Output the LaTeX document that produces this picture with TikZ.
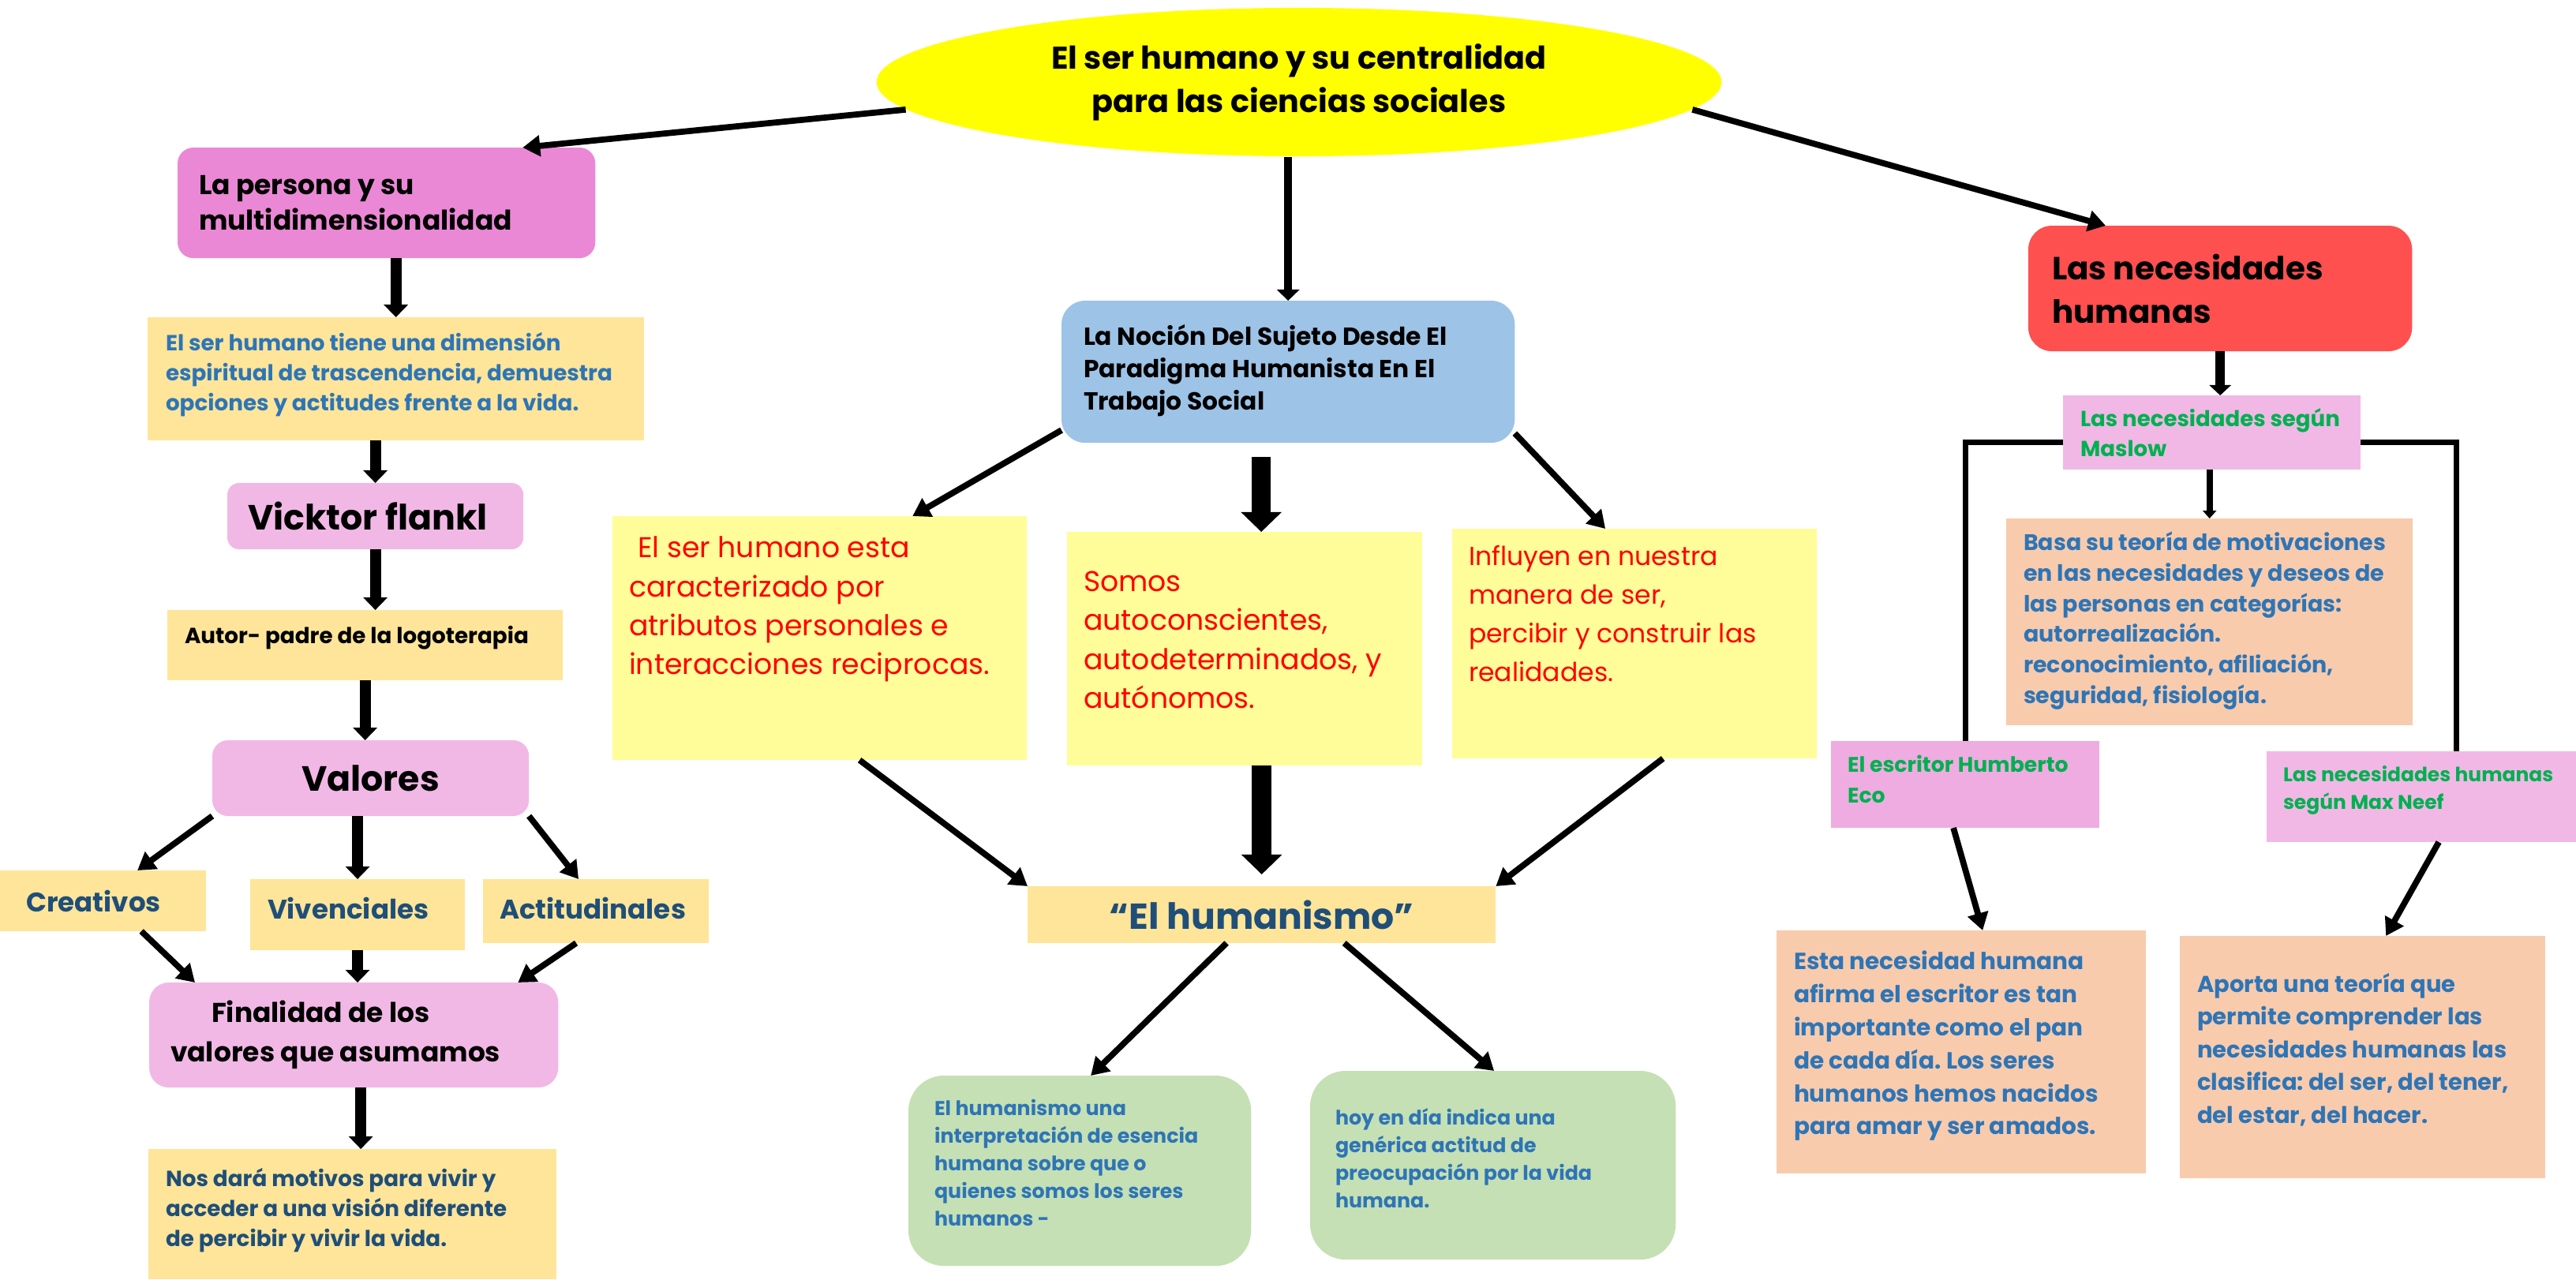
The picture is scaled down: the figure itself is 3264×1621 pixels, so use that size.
\documentclass[tikz,border=0pt]{standalone}
\usepackage{fontspec}
\setmainfont{Poppins}
\usepackage{xcolor}
\usetikzlibrary{arrows.meta,shapes.geometric}
\frenchspacing

\definecolor{elly}{HTML}{FFFF00}
\definecolor{pinkA}{HTML}{EB88D6}
\definecolor{pinkB}{HTML}{F1B8E6}
\definecolor{pinkC}{HTML}{EEACE0}
\definecolor{sandY}{HTML}{FEE599}
\definecolor{lemon}{HTML}{FFFD99}
\definecolor{skyB}{HTML}{9DC3E6}
\definecolor{redN}{HTML}{FF5050}
\definecolor{peach}{HTML}{F8CBAD}
\definecolor{sage}{HTML}{C5E0B4}
\definecolor{txtblue}{HTML}{2E75B6}
\definecolor{txtnavy}{HTML}{1F4E79}
\definecolor{txtgreen}{HTML}{00B050}

\newcommand{\fs}[2]{\fontsize{#1}{#2}\selectfont}
\newcommand{\cell}[4][t]{\parbox[c][#3cm][#1]{#2cm}{\raggedright #4}}

\tikzset{
  box/.style={anchor=north west, outer sep=0pt},
  arr/.style={line width=2.2pt, -{Triangle[length=0.22cm,width=0.26cm]}},
  harr/.style={line width=4pt, -{Triangle[length=0.16cm,width=0.3cm]}},
  barr/.style={line width=7pt, -{Triangle[length=0.25cm,width=0.5cm]}},
  varr/.style={line width=3pt, -{Triangle[length=0.14cm,width=0.28cm]}},
  sarr/.style={line width=3.5pt, -{Triangle[length=0.13cm,width=0.27cm]}},
  tarr/.style={line width=2.2pt, -{Triangle[length=0.1cm,width=0.17cm]}},
  link/.style={line width=2pt}
}

\begin{document}
\begin{tikzpicture}[x=0.01cm, y=-0.01cm]
  \useasboundingbox (0,0) rectangle (3264,1621);
  % title
  \node[ellipse, fill=elly, minimum width=10.7cm, minimum height=1.88cm, inner sep=0pt, align=center, font=\fs{11.3}{15.6}\bfseries] (ell) at (1646,104) {El ser humano y su centralidad\\para las ciencias sociales};

  % left column
  \node[box, fill=pinkA, rounded corners=0.2cm, inner xsep=0.27cm, inner ysep=0.15cm, font=\fs{9.8}{13}\bfseries] (persona) at (225,187) {\cell[c]{4.75}{1.10}{La persona y su\\multidimensionalidad}};
  \node[box, fill=sandY, inner xsep=0.23cm, inner ysep=0.19cm, text=txtblue, font=\fs{7.9}{10.8}\bfseries] (dim) at (187,402) {\cell{5.83}{1.18}{El ser humano tiene una dimensión\\espiritual de trascendencia, demuestra\\opciones y actitudes frente a la vida.}};
  \node[box, fill=pinkB, rounded corners=0.15cm, inner xsep=0.26cm, inner ysep=0.1cm, font=\fs{12.6}{14}\bfseries] (vick) at (288,612) {\cell[c]{3.23}{0.64}{Vicktor flankl}};
  \node[box, fill=sandY, inner xsep=0.22cm, inner ysep=0.2cm, font=\fs{7.9}{10}\bfseries] (autor) at (212,773) {\cell{4.57}{0.49}{Autor- padre de la logoterapia}};
  \node[box, fill=pinkB, rounded corners=0.2cm, inner xsep=0.2cm, inner ysep=0.1cm, font=\fs{12.6}{14}\bfseries] (val) at (269,938) {\cell[c]{3.61}{0.76}{\centering Valores}};
  \node[box, fill=sandY, inner xsep=0.33cm, inner ysep=0.08cm, text=txtnavy, font=\fs{9.7}{11}\bfseries] (creat) at (0,1103) {\cell[c]{1.95}{0.61}{Creativos}};
  \node[box, fill=sandY, inner xsep=0.22cm, inner ysep=0.23cm, text=txtnavy, font=\fs{9.7}{11}\bfseries] (viv) at (317,1114) {\cell{2.28}{0.44}{Vivenciales}};
  \node[box, fill=sandY, inner xsep=0.21cm, inner ysep=0.23cm, text=txtnavy, font=\fs{9.7}{11}\bfseries] (act) at (612,1114) {\cell{2.44}{0.35}{Actitudinales}};
  \node[box, fill=pinkB, rounded corners=0.25cm, inner xsep=0.27cm, inner ysep=0.12cm, font=\fs{9.8}{14.2}\bfseries] (fin) at (189,1245) {\cell[c]{4.64}{1.09}{\hspace*{0.52cm}Finalidad de los\\valores que asumamos}};
  \node[box, fill=sandY, inner xsep=0.22cm, inner ysep=0.24cm, text=txtnavy, font=\fs{7.9}{10.8}\bfseries] (nos) at (188,1456) {\cell{4.73}{1.17}{Nos dará motivos para vivir y\\acceder a una visión diferente\\de percibir y vivir la vida.}};

  % middle column
  \node[box, fill=skyB, rounded corners=0.3cm, inner xsep=0.28cm, inner ysep=0.3cm, font=\fs{8.9}{11.7}\bfseries] (noc) at (1345,381) {\cell{5.18}{1.20}{La Noción Del Sujeto Desde El\\Paradigma Humanista En El\\Trabajo Social}};
  \node[box, fill=lemon, inner xsep=0.21cm, inner ysep=0.26cm, text=red, font=\fs{10.3}{14}] (yl) at (776,654) {\cell{4.83}{2.57}{\hspace*{0.11cm}El ser humano esta\\caracterizado por\\atributos personales e\\interacciones reciprocas.}};
  \node[box, fill=lemon, inner xsep=0.21cm, inner ysep=0.5cm, text=red, font=\fs{10.3}{14}] (ym) at (1352,674) {\cell{4.08}{1.96}{Somos\\autoconscientes,\\autodeterminados, y\\autónomos.}};
  \node[box, fill=lemon, inner xsep=0.21cm, inner ysep=0.21cm, text=red, font=\fs{9.4}{14}] (yr) at (1840,670) {\cell{4.20}{2.49}{Influyen en nuestra\\manera de ser,\\percibir y construir las\\realidades.}};
  \node[box, fill=sandY, inner xsep=0.1cm, inner ysep=0.05cm, text=txtnavy, font=\fs{13}{15}\bfseries] (hum) at (1302,1123) {\cell[c]{5.73}{0.62}{\centering “El humanismo”}};
  \node[box, fill=sage, rounded corners=0.45cm, inner xsep=0.33cm, inner ysep=0.3cm, text=txtblue, font=\fs{7.2}{10}\bfseries] (gl) at (1151,1363) {\cell{3.68}{1.81}{El humanismo una\\interpretación de esencia\\humana sobre que o\\quienes somos los seres\\humanos -}};
  \node[box, fill=sage, rounded corners=0.45cm, inner xsep=0.32cm, inner ysep=0.47cm, text=txtblue, font=\fs{7.2}{10}\bfseries] (gr) at (1660,1357) {\cell{3.99}{1.45}{hoy en día indica una\\genérica actitud de\\preocupación por la vida\\humana.}};

  % right column
  \node[box, fill=redN, rounded corners=0.3cm, inner xsep=0.3cm, inner ysep=0.15cm, font=\fs{11.5}{15.6}\bfseries] (nec) at (2570,286) {\cell[c]{4.26}{1.29}{Las necesidades\\humanas}};
  \node[box, fill=pinkB, inner xsep=0.22cm, inner ysep=0.1cm, text=txtgreen, font=\fs{7.85}{11}\bfseries] (mas) at (2614,501) {\cell[c]{3.33}{0.74}{Las necesidades según\\Maslow}};
  \node[box, fill=peach, inner xsep=0.22cm, inner ysep=0.17cm, text=txtblue, font=\fs{8.1}{11}\bfseries] (basa) at (2542,657) {\cell{4.71}{2.28}{Basa su teoría de motivaciones\\en las necesidades y deseos de\\las personas en categorías:\\autorrealización.\\reconocimiento, afiliación,\\seguridad, fisiología.}};
  \node[box, fill=pinkC, inner xsep=0.21cm, inner ysep=0.18cm, text=txtgreen, font=\fs{7.6}{11}\bfseries] (eco) at (2320,939) {\cell{2.98}{0.74}{El escritor Humberto\\Eco}};
  \node[box, fill=pinkB, inner xsep=0.21cm, inner ysep=0.18cm, text=txtgreen, font=\fs{7.1}{10}\bfseries] (neef) at (2872,952) {\cell{3.50}{0.79}{Las necesidades humanas\\según Max Neef}};
  \node[box, fill=peach, inner xsep=0.22cm, inner ysep=0.26cm, text=txtblue, font=\fs{8.4}{11.9}\bfseries] (esta) at (2251,1179) {\cell{4.24}{2.56}{Esta necesidad humana\\afirma el escritor es tan\\importante como el pan\\de cada día. Los seres\\humanos hemos nacidos\\para amar y ser amados.}};
  \node[box, fill=peach, inner xsep=0.22cm, inner ysep=0.47cm, text=txtblue, font=\fs{8.25}{11.8}\bfseries] (aporta) at (2762,1186) {\cell{4.19}{2.13}{Aporta una teoría que\\permite comprender las\\necesidades humanas las\\clasifica: del ser, del tener,\\del estar, del hacer.}};

  % connectors, left
  \draw[arr] (ell.184) -- ([xshift=-0.92cm]persona.north east);
  \draw[harr] (persona.south -| dim.north) -- (dim.north);
  \draw[harr] (dim.south -| vick.north) -- (vick.north);
  \draw[harr] (vick.south) -- (vick.south |- autor.north);
  \draw[harr] (autor.south) -- (autor.south |- val.north);
  \draw[arr] (val.south west) -- ([xshift=-0.87cm]creat.north east);
  \draw[harr] (val.south -| viv.north) -- (viv.north);
  \draw[arr] (val.south east) -- ([xshift=1.21cm]act.north west);
  \draw[arr] ([xshift=-0.82cm]creat.south east) -- ([xshift=0.58cm]fin.north west);
  \draw[harr] (viv.south) -- (viv.south |- fin.north);
  \draw[arr] ([xshift=1.18cm]act.south west) -- ([xshift=-0.51cm]fin.north east);
  \coordinate (finout) at ([xshift=0.09cm]fin.south);
  \draw[harr] (finout) -- (finout |- nos.north);

  % connectors, middle
  \draw[varr] (ell.south -| noc.north) -- (noc.north);
  \draw[arr] ([yshift=0.16cm]noc.south west) -- ([xshift=-1.45cm]yl.north east);
  \coordinate (nocout) at ([xshift=-0.34cm,yshift=-0.18cm]noc.south);
  \draw[barr] (nocout) -- (nocout |- ym.north);
  \draw[arr] ([yshift=0.12cm]noc.south east) -- ([xshift=1.94cm]yr.north west);
  \draw[arr] ([xshift=3.13cm]yl.south west) -- (hum.north west);
  \draw[barr, shorten >=0.15cm] (ym.south -| hum.north) -- (hum.north);
  \draw[arr] ([xshift=2.67cm]yr.south west) -- (hum.north east);
  \draw[arr] ([xshift=-0.445cm]hum.south) -- ([xshift=2.31cm]gl.north west);
  \draw[arr] ([xshift=1.045cm]hum.south) -- ([xshift=2.33cm]gr.north west);

  % connectors, right
  \draw[arr] (ell.356) -- ([xshift=0.98cm]nec.north west);
  \draw[sarr] (nec.south) -- (nec.south |- mas.north);
  \draw[tarr] (basa.north |- mas.south) -- (basa.north);
  \draw[link] ([yshift=-0.12cm]mas.west) -| (eco.north);
  \draw[link] ([yshift=-0.12cm]mas.east) -| ([xshift=0.44cm]neef.north);
  \draw[arr] ([xshift=-0.15cm]eco.south) -- ([xshift=2.61cm]esta.north west);
  \draw[arr] ([xshift=0.22cm]neef.south) -- ([xshift=2.61cm]aporta.north west);
\end{tikzpicture}
\end{document}
